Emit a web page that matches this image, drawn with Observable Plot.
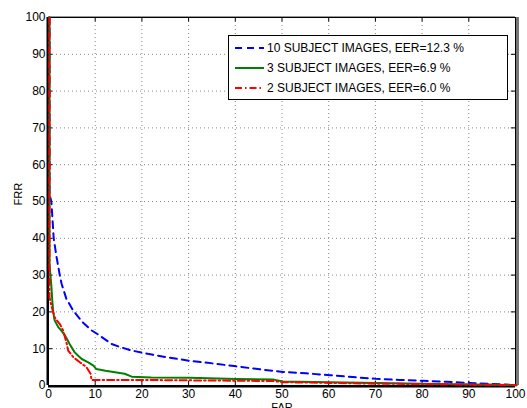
<!DOCTYPE html>
<html><head><meta charset="utf-8">
<script src="https://cdn.jsdelivr.net/npm/d3@7"></script>
<script src="https://cdn.jsdelivr.net/npm/@observablehq/plot@0.6"></script>
<style>
body{margin:0;background:#fff;font-family:"Liberation Sans",Arial,sans-serif;}
#wrap{position:relative;width:527px;height:408px;overflow:hidden;}
#legend{position:absolute;left:228px;top:35px;width:280px;height:65px;border:1px solid #000;background:#fff;font-size:12px;color:#000;box-sizing:border-box;}
#legend .row{position:absolute;left:5px;height:14px;display:flex;align-items:center;}
#legend svg{margin-right:3px;}
</style></head>
<body><div id="wrap"><div id="chart"></div><div id="legend"></div></div>
<script>
const seriesNames = ["10 SUBJECT IMAGES, EER=12.3 %","3 SUBJECT IMAGES, EER=6.9 %","2 SUBJECT IMAGES, EER=6.0 %"];
const seriesColors = ["#0000ff","#008000","#ff0000"];
const seriesDash = ["7,5","none","7,3,1.5,3"];

const far10 = [0,0,0.4,0.9,1.5,2.2,2.6,3.6,5.1,7,9,10,13.3,15,17.6,21,25,30,35,40,45,50,55,60,65,70,75,80,85,90,95,100];
const frr10 = [100,52,50,40,35,30,27.6,23.6,20.3,17.3,15,14.2,11.3,10.5,9.5,8.6,7.7,6.7,6,5.2,4.4,3.7,3.3,2.8,2.3,1.8,1.5,1.3,1,0.7,0.4,0.1];

const far3 = [0,0,0.2,0.4,0.6,0.8,1.1,1.9,2.5,3.3,3.8,4.3,5.4,6.2,6.9,8.3,9.4,10,12,14,16.1,17.6,21.8,30,40,48,50,60,70,80,90,100];
const frr3 = [100,33,30,27,23,20,17.7,15.8,15,13.6,12.5,11.3,9,8,7.2,6.3,5.4,4.5,4,3.6,3.2,2.4,2.2,2.1,1.8,1.6,1.1,0.9,0.7,0.5,0.3,0.1];

const far2 = [0,0,0.4,1.1,2.2,2.9,3.6,4,5.1,6.5,7.9,8.8,9,15,20,30,40,48,50,60,70,80,90,100];
const frr2 = [100,24,21.7,18.5,16.7,15,11.8,9.5,7.7,6.3,5,3.2,1.5,1.5,1.5,1.4,1.3,1.2,0.9,0.7,0.5,0.4,0.25,0.1];

const tickVals = [0,10,20,30,40,50,60,70,80,90,100];

const fars = [far10, far3, far2];
const frrs = [frr10, frr3, frr2];
const data = [];
fars.forEach((xs,i)=>xs.forEach((x,j)=>data.push({s:i, far:x, frr:frrs[i][j]})));

const W = 527, H = 408;
const plot = Plot.plot({
  width: W, height: H,
  marginLeft: 48, marginRight: 12, marginTop: 17, marginBottom: 23,
  style: {fontFamily: '"Liberation Sans",Arial,sans-serif', fontSize: "11px", background: "#fff", overflow: "visible"},
  x: {domain: [0,100], ticks: tickVals, label: null},
  y: {domain: [0,100], ticks: tickVals, label: null},
  marks: [
    Plot.ruleX(tickVals.slice(1,-1), {stroke: "#888", strokeDasharray: "1,3", strokeWidth: 1}),
    Plot.ruleY(tickVals.slice(1,-1), {stroke: "#888", strokeDasharray: "1,3", strokeWidth: 1}),
    Plot.ruleX(tickVals, {y1: 0, y2: 1.2, stroke: "#000"}),
    Plot.ruleX(tickVals, {y1: 98.8, y2: 100, stroke: "#000"}),
    Plot.ruleY(tickVals, {x1: 0, x2: 0.9, stroke: "#000"}),
    Plot.ruleY(tickVals, {x1: 99.1, x2: 100, stroke: "#000"}),
    Plot.frame({stroke: "#000", strokeWidth: 1}),
    Plot.ruleX([0], {stroke: "#000", strokeWidth: 2, dx: -1}),
    Plot.ruleY([0], {stroke: "#000", strokeWidth: 2, dy: 1}),
    Plot.ruleX([100], {stroke: "#777", strokeWidth: 3, dx: 2}),
    Plot.ruleY([100], {stroke: "#999", strokeWidth: 1, dy: -1}),
    ...[0,1,2].map(i => Plot.line(data.filter(d=>d.s===i), {x: "far", y: "frr", dx: 1, stroke: seriesColors[i], strokeWidth: 2, strokeDasharray: seriesDash[i] === "none" ? null : seriesDash[i]})),
    Plot.axisX(tickVals, {tickSize: 0, tickPadding: 4, fontSize: 12, fill: "#000"}),
    Plot.axisY(tickVals, {tickSize: 0, tickPadding: 3, fontSize: 12, fill: "#000"}),
    Plot.text(["FAR"], {x: 50, y: 0, dy: 18, fontSize: 11, lineAnchor: "top", fill: "#000"}),
    Plot.text(["FRR"], {x: 0, y: 52, dx: -30, rotate: -90, fontSize: 11, fill: "#000"})
  ]
});
document.getElementById("chart").appendChild(plot);

const leg = document.getElementById("legend");
seriesNames.forEach((n,i)=>{
  const row = document.createElement("div");
  row.className = "row";
  row.style.top = (5 + i*20) + "px";
  const dash = seriesDash[i] === "none" ? "" : `stroke-dasharray="${seriesDash[i]}"`;
  row.innerHTML = `<svg width="30" height="6"><line x1="1" y1="3" x2="30" y2="3" stroke="${seriesColors[i]}" stroke-width="2" ${dash}/></svg><span>${n}</span>`;
  leg.appendChild(row);
});
</script></body></html>
